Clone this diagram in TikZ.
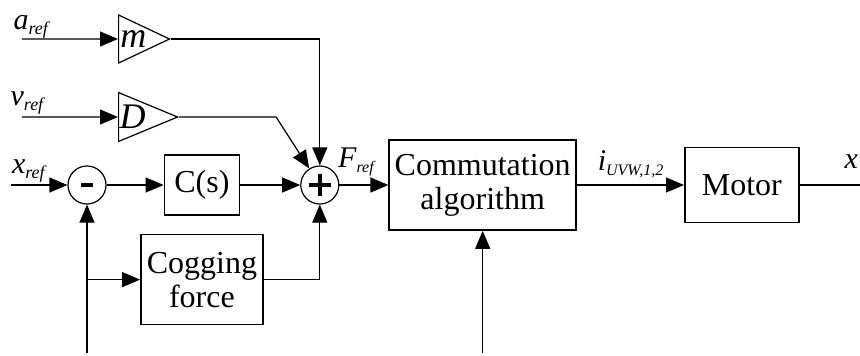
\documentclass[tikz,border=0pt]{standalone}
\usepackage{fontspec}
\setmainfont{Liberation Serif}
\usetikzlibrary{positioning}
\usetikzlibrary{arrows.meta}
\usetikzlibrary{shapes.geometric}
\tikzstyle{block} = [draw, fill=white, rectangle, line width=0.8pt, inner sep=0pt, align=center, font=\fontsize{16}{17}\selectfont]
\tikzstyle{sum} = [draw, circle, line width=0.6pt, inner sep=0pt, minimum size=19pt]
\tikzstyle{gain} = [draw, isosceles triangle, isosceles triangle stretches, line width=0.6pt, inner sep=0.5pt, minimum width=24pt, minimum height=24pt, font=\fontsize{18}{18}\selectfont\itshape]
\tikzstyle{sig} = [inner sep=0pt, font=\fontsize{15}{15}\selectfont]
\tikzstyle{coord} = [coordinate]
\tikzset{
  minus/.style={%
    path picture={
      % thick bar in the middle of the circle
      \draw[line width=1.6pt] ([xshift=-3pt]path picture bounding box.center)
        -- ([xshift=3pt]path picture bounding box.center);
    }
  },
  plus/.style={%
    path picture={
      \draw[line width=1.7pt] ([xshift=-5.5pt]path picture bounding box.center)
        -- ([xshift=5.5pt]path picture bounding box.center);
      \draw[line width=1.7pt] ([yshift=-5.5pt]path picture bounding box.center)
        -- ([yshift=5.5pt]path picture bounding box.center);
    }
  },
}
\newcommand{\signal}[3][9]{\textit{#2}\raisebox{-2.5pt}{\fontsize{#1}{#1}\selectfont\textit{#3}}}

\begin{document}
\begin{tikzpicture}[auto, >={Triangle[length=9pt, width=7.5pt]}, line width=0.6pt]
    \useasboundingbox (0,0) rectangle (430pt,177.5pt);

    \node [sum, minus] (diff) at (43.5pt,85pt) {};
    \node [block, minimum width=37.5pt, minimum height=30pt, node distance=28.5pt, right=of diff] (ctrl) {C(s)};
    \node [sum, plus, node distance=30pt, right=of ctrl] (sumF) {};
    \node [block, minimum width=93.5pt, minimum height=45pt, node distance=24.5pt, right=of sumF] (commut)
        {Commutation\\algorithm};
    \node [block, minimum width=57pt, minimum height=37.5pt, node distance=53.5pt, right=of commut] (motor) {Motor};
    \node [coord, node distance=30pt, right=of motor] (x) {};
    \node [block, minimum width=61pt, minimum height=45pt, node distance=9pt, below=of ctrl] (cogging)
        {Cogging\\force};
    \node [coord, node distance=28pt, left=of diff] (xref) {};

    \node [coord] (aref) at (11pt,158pt) {};
    \node [gain, node distance=48pt, right=of aref] (gm) {m};
    \node [coord, node distance=39pt, below=of aref] (vref) {};
    \node [gain, node distance=48pt, right=of vref] (gd) {D};
    \node [coord, node distance=48.5pt, right=of gd] (dbend) {};

    \node [coord] (base) at (0,1pt) {};
    \node [coord] (fbin) at (diff |- base) {};
    \node [coord] (cmin) at (commut |- base) {};
    \node [coord] (bx) at (diff |- cogging) {};

    \draw [->] (aref) node [sig, anchor=base west, xshift=-4.5pt, yshift=5pt] {\signal{a}{ref}} -- (gm);
    \draw [->] (vref) node [sig, anchor=base west, xshift=-6pt, yshift=6pt] {\signal{v}{ref}} -- (gd);
    \draw [->] (xref) node [sig, anchor=base west, yshift=6pt] {\signal{x}{ref}} -- (diff);
    \draw [->] (diff) -- (ctrl);
    \draw [->] (ctrl) -- (sumF);
    \draw [->] (gm) -| (sumF);
    \draw [->] (gd) -- (dbend) -- (sumF);
    \draw [->] (cogging) -| (sumF);
    \draw [->] (sumF.east) node [sig, anchor=base west, xshift=-1pt, yshift=9pt] {\signal[8]{F}{ref}} -- (commut);
    \draw [->] (commut) -- node [sig, anchor=base, yshift=7.5pt] {\signal[8]{i}{UVW,1,2}} (motor);
    \draw [-] (motor) -- (x) node [sig, anchor=base east, xshift=-0.5pt, yshift=8.5pt] {\textit{x}};
    \draw [->] (fbin) -- (diff);
    \draw [->] (bx) -- (cogging);
    \draw [->] (cmin) -- (commut);
\end{tikzpicture}
\end{document}
